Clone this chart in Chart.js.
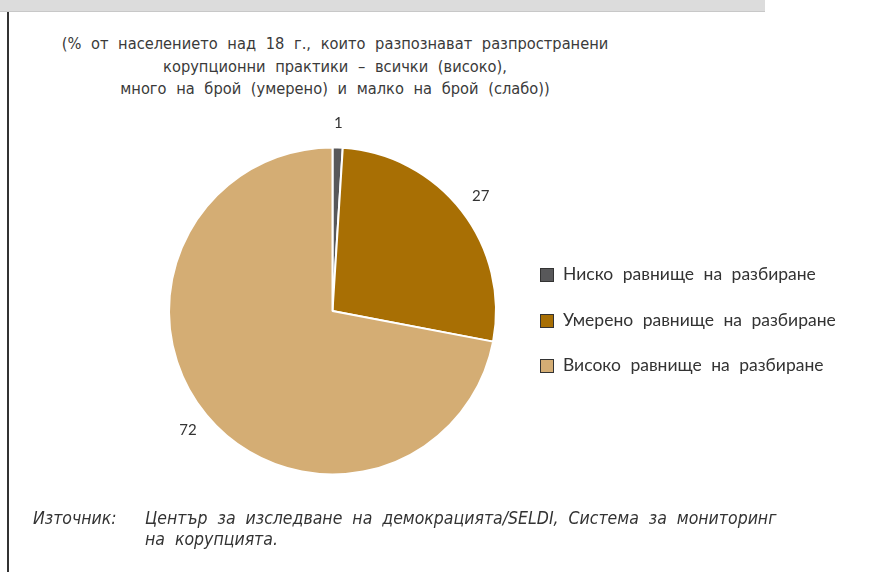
<!DOCTYPE html>
<html>
<head>
<meta charset="utf-8">
<script src="https://cdn.jsdelivr.net/npm/chart.js@4/dist/chart.umd.min.js"></script>
<style>
  html, body { margin: 0; padding: 0; background: #fff; }
  #wrap { position: relative; width: 888px; height: 572px; overflow: hidden; }
  #topbar { position: absolute; left: 0; top: 0; width: 765px; height: 11px; background: #dcdcdc; border-bottom: 1px solid #c8c8c8; }
  #leftline { position: absolute; left: 7px; top: 12px; width: 2px; height: 560px; background: #333; }
  #title { position: absolute; left: 10px; width: 650px; top: 33px; text-align: center;
           font-family: "DejaVu Sans Condensed", "Liberation Sans Narrow", sans-serif; font-size: 16.3px;
           line-height: 22.5px; color: #3a3a3a; word-spacing: 5px; }
  #legend { position: absolute; left: 540px; top: 263px; font-family: "Lato", "Noto Sans", sans-serif;
            font-size: 17.5px; color: #333; word-spacing: 5px; }
  #legend div { height: 45.5px; display: flex; align-items: flex-start; }
  #legend span.sw { display: inline-block; width: 12px; height: 12px; border: 1px solid #333; margin: 5px 9px 0 0; }
  #source { position: absolute; left: 33px; top: 508px; font-family: "DejaVu Sans Condensed", sans-serif;
            font-style: italic; font-size: 17.5px; color: #333; line-height: 21px; word-spacing: 5px; }
  #source .k { position: absolute; left: 0; top: 0; white-space: nowrap; }
  #source .v { position: absolute; left: 112px; top: 0; width: 720px; white-space: nowrap; }
  canvas { position: absolute; left: 0; top: 0; }
</style>
</head>
<body>
<div id="wrap">
  <div id="topbar"></div>
  <div id="leftline"></div>
  <div id="title">(% от населението над 18 г., които разпознават разпространени<br>корупционни практики – всички (високо),<br>много на брой (умерено) и малко на брой (слабо))</div>
  <canvas id="pie" width="888" height="572"></canvas>
  <div id="legend"></div>
  <div id="source"><span class="k">Източник:</span><span class="v">Център за изследване на демокрацията/SELDI, Система за мониторинг<br>на корупцията.</span></div>
</div>
<script>
const labels = ['Ниско равнище на разбиране', 'Умерено равнище на разбиране', 'Високо равнище на разбиране'];
const values = [1, 27, 72];
const colors = ['#58585a', '#a86f04', '#d4ad74'];

// leyenda en HTML
const legendEl = document.getElementById('legend');
labels.forEach((lbl, i) => {
    const row = document.createElement('div');
    row.innerHTML = `<span class="sw" style="background:${colors[i]}"></span>${lbl}`;
    legendEl.appendChild(row);
});

// etiquetas de valores fuera del pastel
const valueLabels = {
    id: 'valueLabels',
    afterDatasetsDraw(chart) {
        const ctx = chart.ctx;
        const meta = chart.getDatasetMeta(0);
        ctx.save();
        ctx.font = '15px "Lato", "Noto Sans", sans-serif';
        ctx.fillStyle = '#333';
        ctx.textAlign = 'center';
        ctx.textBaseline = 'middle';
        meta.data.forEach((arc, i) => {
            const mid = (arc.startAngle + arc.endAngle) / 2;
            const r = arc.outerRadius + 24;
            ctx.fillText(values[i], arc.x + Math.cos(mid) * r, arc.y + Math.sin(mid) * r);
        });
        ctx.restore();
    }
};

new Chart(document.getElementById('pie'), {
    type: 'pie',
    data: {
        labels,
        datasets: [{
            data: values,
            backgroundColor: colors,
            borderColor: '#fff',
            borderWidth: 2
        }]
    },
    options: {
        responsive: false,
        animation: false,
        layout: { padding: { left: 168, right: 391, top: 146, bottom: 96 } },
        plugins: { legend: { display: false }, tooltip: { enabled: false } }
    },
    plugins: [valueLabels]
});
</script>
</body>
</html>
